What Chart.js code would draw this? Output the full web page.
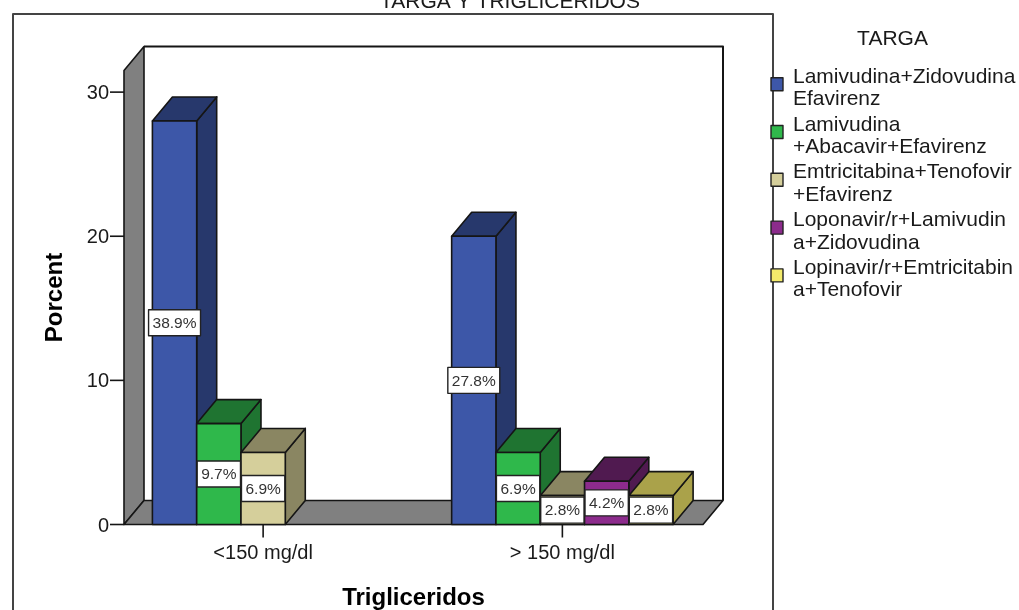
<!DOCTYPE html>
<html>
<head>
<meta charset="utf-8">
<script src="https://cdn.jsdelivr.net/npm/chart.js@4.4.1/dist/chart.umd.min.js"></script>
<style>
  html, body { margin: 0; padding: 0; background: #fff; overflow: hidden; }
  canvas { display: block; }
</style>
</head>
<body>
<canvas id="c" width="1019" height="610"></canvas>
<script>
const chartTitle = 'TARGA Y TRIGLICERIDOS';
const legendTitle = 'TARGA';
const xTitle = 'Trigliceridos';
const yTitle = 'Porcent';
const categories = ['<150 mg/dl', '> 150 mg/dl'];
const yTicks = [0, 10, 20, 30];

// patients per treatment scheme in each triglyceride group
const lamZidEfa = [28, 20];
const lamAbaEfa = [7, 5];
const emtTenEfa = [5, 2];
const lopLamZid = [0, 3];
const lopEmtTen = [0, 2];

const seriesNames = [
  ['Lamivudina+Zidovudina', 'Efavirenz'],
  ['Lamivudina', '+Abacavir+Efavirenz'],
  ['Emtricitabina+Tenofovir', '+Efavirenz'],
  ['Loponavir/r+Lamivudin', 'a+Zidovudina'],
  ['Lopinavir/r+Emtricitabin', 'a+Tenofovir']
];
const frontColors = ['#3d57a8', '#2fb84b', '#d5cf9b', '#8c2b8c', '#f3eb6b'];
const shadeColors = ['#27386c', '#1f7431', '#8a8662', '#501a50', '#aaa24a'];

const seriesValues = [lamZidEfa, lamAbaEfa, emtTenEfa, lopLamZid, lopEmtTen];
const grandTotal = seriesValues.flat().reduce((a, b) => a + b, 0);

const FONT = '"Liberation Sans", Arial, sans-serif';
const DX = 20, DY = 24;          // depth of the 3D extrusion
const EDGE = '#151515';

function poly(ctx, pts, fill) {
  ctx.beginPath();
  ctx.moveTo(pts[0][0], pts[0][1]);
  for (let i = 1; i < pts.length; i++) ctx.lineTo(pts[i][0], pts[i][1]);
  ctx.closePath();
  if (fill) { ctx.fillStyle = fill; ctx.fill(); }
  ctx.stroke();
}

function drawBox(ctx, x0, x1, yTop, yBase, front, shade) {
  // right side face
  poly(ctx, [[x1, yBase], [x1, yTop], [x1 + DX, yTop - DY], [x1 + DX, yBase - DY]], shade);
  // top face
  poly(ctx, [[x0, yTop], [x1, yTop], [x1 + DX, yTop - DY], [x0 + DX, yTop - DY]], shade);
  // front face
  poly(ctx, [[x0, yBase], [x0, yTop], [x1, yTop], [x1, yBase]], front);
}

const scene3d = {
  id: 'scene3d',
  beforeDatasetsDraw(chart) {
    const ctx = chart.ctx;
    const area = chart.chartArea;
    const xs = chart.scales.x, ys = chart.scales.y;
    const y0 = ys.getPixelForValue(0);
    const fl = area.left + 10.5, fr = area.right - 9;
    const top = area.top;

    ctx.save();
    ctx.lineJoin = 'round';

    // outer frame
    ctx.strokeStyle = '#444';
    ctx.lineWidth = 2;
    ctx.strokeRect(13, 14, 760, 620);

    // title
    ctx.fillStyle = '#1a1a1a';
    ctx.font = '21px ' + FONT;
    ctx.textAlign = 'center';
    ctx.textBaseline = 'alphabetic';
    ctx.fillText(chartTitle, 510, 7.5);

    // back wall
    ctx.strokeStyle = EDGE;
    ctx.lineWidth = 2;
    ctx.beginPath();
    ctx.moveTo(fl + DX, top - DY);
    ctx.lineTo(fr + DX, top - DY);
    ctx.lineTo(fr + DX, y0 - DY);
    ctx.stroke();

    ctx.lineWidth = 1.6;
    // left wall
    poly(ctx, [[fl, top], [fl + DX, top - DY], [fl + DX, y0 - DY], [fl, y0]], '#808080');
    // floor
    poly(ctx, [[fl, y0], [fl + DX, y0 - DY], [fr + DX, y0 - DY], [fr, y0]], '#808080');

    // bars, left to right so each one overlaps its neighbour's side
    const nSeries = chart.data.datasets.length;
    const labelsToDraw = [];
    for (let c = 0; c < categories.length; c++) {
      for (let s = 0; s < nSeries; s++) {
        const el = chart.getDatasetMeta(s).data[c];
        const v = chart.data.datasets[s].data[c];
        if (!v) continue;
        const x0 = el.x - el.width / 2, x1 = el.x + el.width / 2;
        drawBox(ctx, x0, x1, el.y, el.base, frontColors[s], shadeColors[s]);
        labelsToDraw.push({ x: el.x, y: (el.y + el.base) / 2, text: (v / grandTotal * 100).toFixed(1) + '%' });
      }
    }

    // value labels
    ctx.font = '15.5px ' + FONT;
    ctx.textAlign = 'center';
    ctx.textBaseline = 'middle';
    labelsToDraw.forEach(l => {
      const w = ctx.measureText(l.text).width + 8;
      const h = 26;
      ctx.fillStyle = '#fff';
      ctx.fillRect(l.x - w / 2, l.y - h / 2, w, h);
      ctx.strokeStyle = '#222';
      ctx.lineWidth = 1.4;
      ctx.strokeRect(l.x - w / 2, l.y - h / 2, w, h);
      ctx.fillStyle = '#333';
      ctx.fillText(l.text, l.x, l.y + 1);
    });

    // y axis ticks and labels
    ctx.strokeStyle = EDGE;
    ctx.lineWidth = 1.6;
    ctx.fillStyle = '#1a1a1a';
    ctx.font = '20px ' + FONT;
    ctx.textAlign = 'right';
    ctx.textBaseline = 'middle';
    yTicks.forEach(t => {
      const py = ys.getPixelForValue(t);
      ctx.beginPath();
      ctx.moveTo(fl - 14, py);
      ctx.lineTo(fl, py);
      ctx.stroke();
      ctx.fillText(String(t), fl - 15, py + 1.5);
    });

    // x axis ticks and labels
    ctx.textAlign = 'center';
    ctx.textBaseline = 'alphabetic';
    categories.forEach((cat, i) => {
      const px = xs.getPixelForValue(i);
      ctx.beginPath();
      ctx.moveTo(px, y0);
      ctx.lineTo(px, y0 + 13);
      ctx.stroke();
      ctx.fillText(cat, px, y0 + 34.5);
    });

    // axis titles
    ctx.font = 'bold 24px ' + FONT;
    ctx.fillStyle = '#000';
    ctx.fillText(xTitle, (fl + fr) / 2, 605);
    ctx.save();
    ctx.translate(61.5, (top + y0) / 2);
    ctx.rotate(-Math.PI / 2);
    ctx.fillText(yTitle, 0, 0);
    ctx.restore();

    // legend
    ctx.fillStyle = '#1a1a1a';
    ctx.font = '21px ' + FONT;
    ctx.textAlign = 'center';
    ctx.fillText(legendTitle, 892.5, 45);
    ctx.textAlign = 'left';
    seriesNames.forEach((lines, i) => {
      const base = 82.7 + i * 47.8;
      ctx.fillStyle = frontColors[i];
      ctx.strokeStyle = '#222';
      ctx.lineWidth = 1.4;
      ctx.fillRect(771, base - 5, 12, 13);
      ctx.strokeRect(771, base - 5, 12, 13);
      ctx.fillStyle = '#1a1a1a';
      lines.forEach((ln, k) => ctx.fillText(ln, 793, base + k * 22.4));
    });

    ctx.restore();
    return false;
  }
};

new Chart(document.getElementById('c'), {
  type: 'bar',
  data: {
    labels: categories,
    datasets: seriesValues.map((vals, i) => ({
      label: seriesNames[i].join(''),
      data: vals,
      backgroundColor: frontColors[i],
      categoryPercentage: 0.74,
      barPercentage: 1.0
    }))
  },
  options: {
    responsive: false,
    animation: false,
    devicePixelRatio: 1,
    layout: { padding: { left: 113.5, right: 307, top: 70.5, bottom: 85.5 } },
    plugins: {
      legend: { display: false },
      title: { display: false },
      tooltip: { enabled: false }
    },
    scales: {
      x: { display: false },
      y: { display: false, min: 0, max: 31.5 }
    }
  },
  plugins: [scene3d]
});
</script>
</body>
</html>
